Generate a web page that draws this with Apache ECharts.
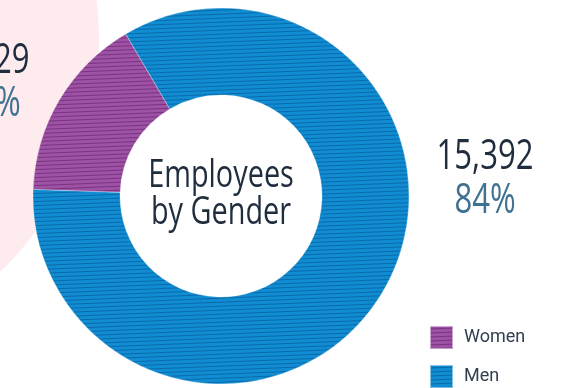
<!DOCTYPE html>
<html>
<head>
<meta charset="utf-8">
<style>
  html, body { margin: 0; padding: 0; background: #ffffff; }
  #chart { width: 576px; height: 388px; }
</style>
<script src="https://cdn.jsdelivr.net/npm/echarts@6/dist/echarts.min.js"></script>
</head>
<body>
<div id="chart"></div>
<script>
// Headcount by gender
const categories = ['Women', 'Men'];
const headcount = [2929, 15392];
const shares = [16, 84];
const baseColors = ['#9d52a3', '#108dd2'];
const lineColors = ['#7a3383', '#0c69a8'];

const FONT = '"Open Sans", "Noto Sans", sans-serif';
const NARROW = 0.74;   // horizontal squeeze for a condensed look

// Fine, nearly horizontal hatching over the base colour
function hatch(base, line) {
  const c = document.createElement('canvas');
  c.width = 100; c.height = 4;
  const g = c.getContext('2d');
  g.fillStyle = base;
  g.fillRect(0, 0, 100, 4);
  g.strokeStyle = line;
  g.lineWidth = 1.0;
  for (let k = -1; k <= 1; k++) {
    g.beginPath();
    g.moveTo(0, 3 + 4 * k);
    g.lineTo(100, -1 + 4 * k);
    g.stroke();
  }
  return { image: c, repeat: 'repeat' };
}

// Where each slice's figures sit: [number centre y, share centre y]
const labelX = [-10, 485];
const labelY = [[61, 104], [157, 201]];

function narrowText(text, x, y, size, color, squeeze) {
  return {
    type: 'text',
    z: 100,
    x: x,
    y: y,
    scaleX: squeeze || NARROW,
    style: {
      text: text,
      fill: color,
      font: size + 'px ' + FONT,
      align: 'center',
      verticalAlign: 'middle'
    },
    silent: true
  };
}

const figureTexts = [];
categories.forEach((name, i) => {
  figureTexts.push(narrowText(headcount[i].toLocaleString('en-US'), labelX[i], labelY[i][0], 42, '#1f2d3f'));
  figureTexts.push(narrowText(shares[i] + '%', labelX[i], labelY[i][1], 42, '#3f7191'));
});

const chart = echarts.init(document.getElementById('chart'), null, { renderer: 'canvas' });

chart.setOption({
  animation: false,
  graphic: [
    {
      type: 'circle',
      z: -10,
      shape: { cx: -222, cy: 40, r: 321 },
      style: { fill: '#fdebee' },
      silent: true
    },
    narrowText('Employees', 221, 176, 39, '#1f2d3f'),
    narrowText('by Gender', 221, 213, 39, '#1f2d3f')
  ].concat(figureTexts),
  legend: {
    orient: 'vertical',
    left: 429,
    top: 325,
    height: 80,
    padding: 0,
    itemWidth: 23,
    itemHeight: 23,
    itemGap: 14,
    icon: 'rect',
    selectedMode: false,
    textStyle: { fontFamily: 'Roboto, sans-serif', fontSize: 18, color: '#2f3e50', padding: [3, 0, 0, 6] },
    data: categories
  },
  series: [
    {
      type: 'pie',
      center: [221, 196],
      radius: [101, 188],
      startAngle: 178,
      clockwise: true,
      emphasis: { disabled: true },
      itemStyle: { borderColor: 'rgba(255,255,255,0.5)', borderWidth: 0.6 },
      label: { show: false },
      labelLine: { show: false },
      data: categories.map((name, i) => ({
        name,
        value: headcount[i],
        itemStyle: { color: hatch(baseColors[i], lineColors[i]) }
      }))
    }
  ]
});
</script>
</body>
</html>
